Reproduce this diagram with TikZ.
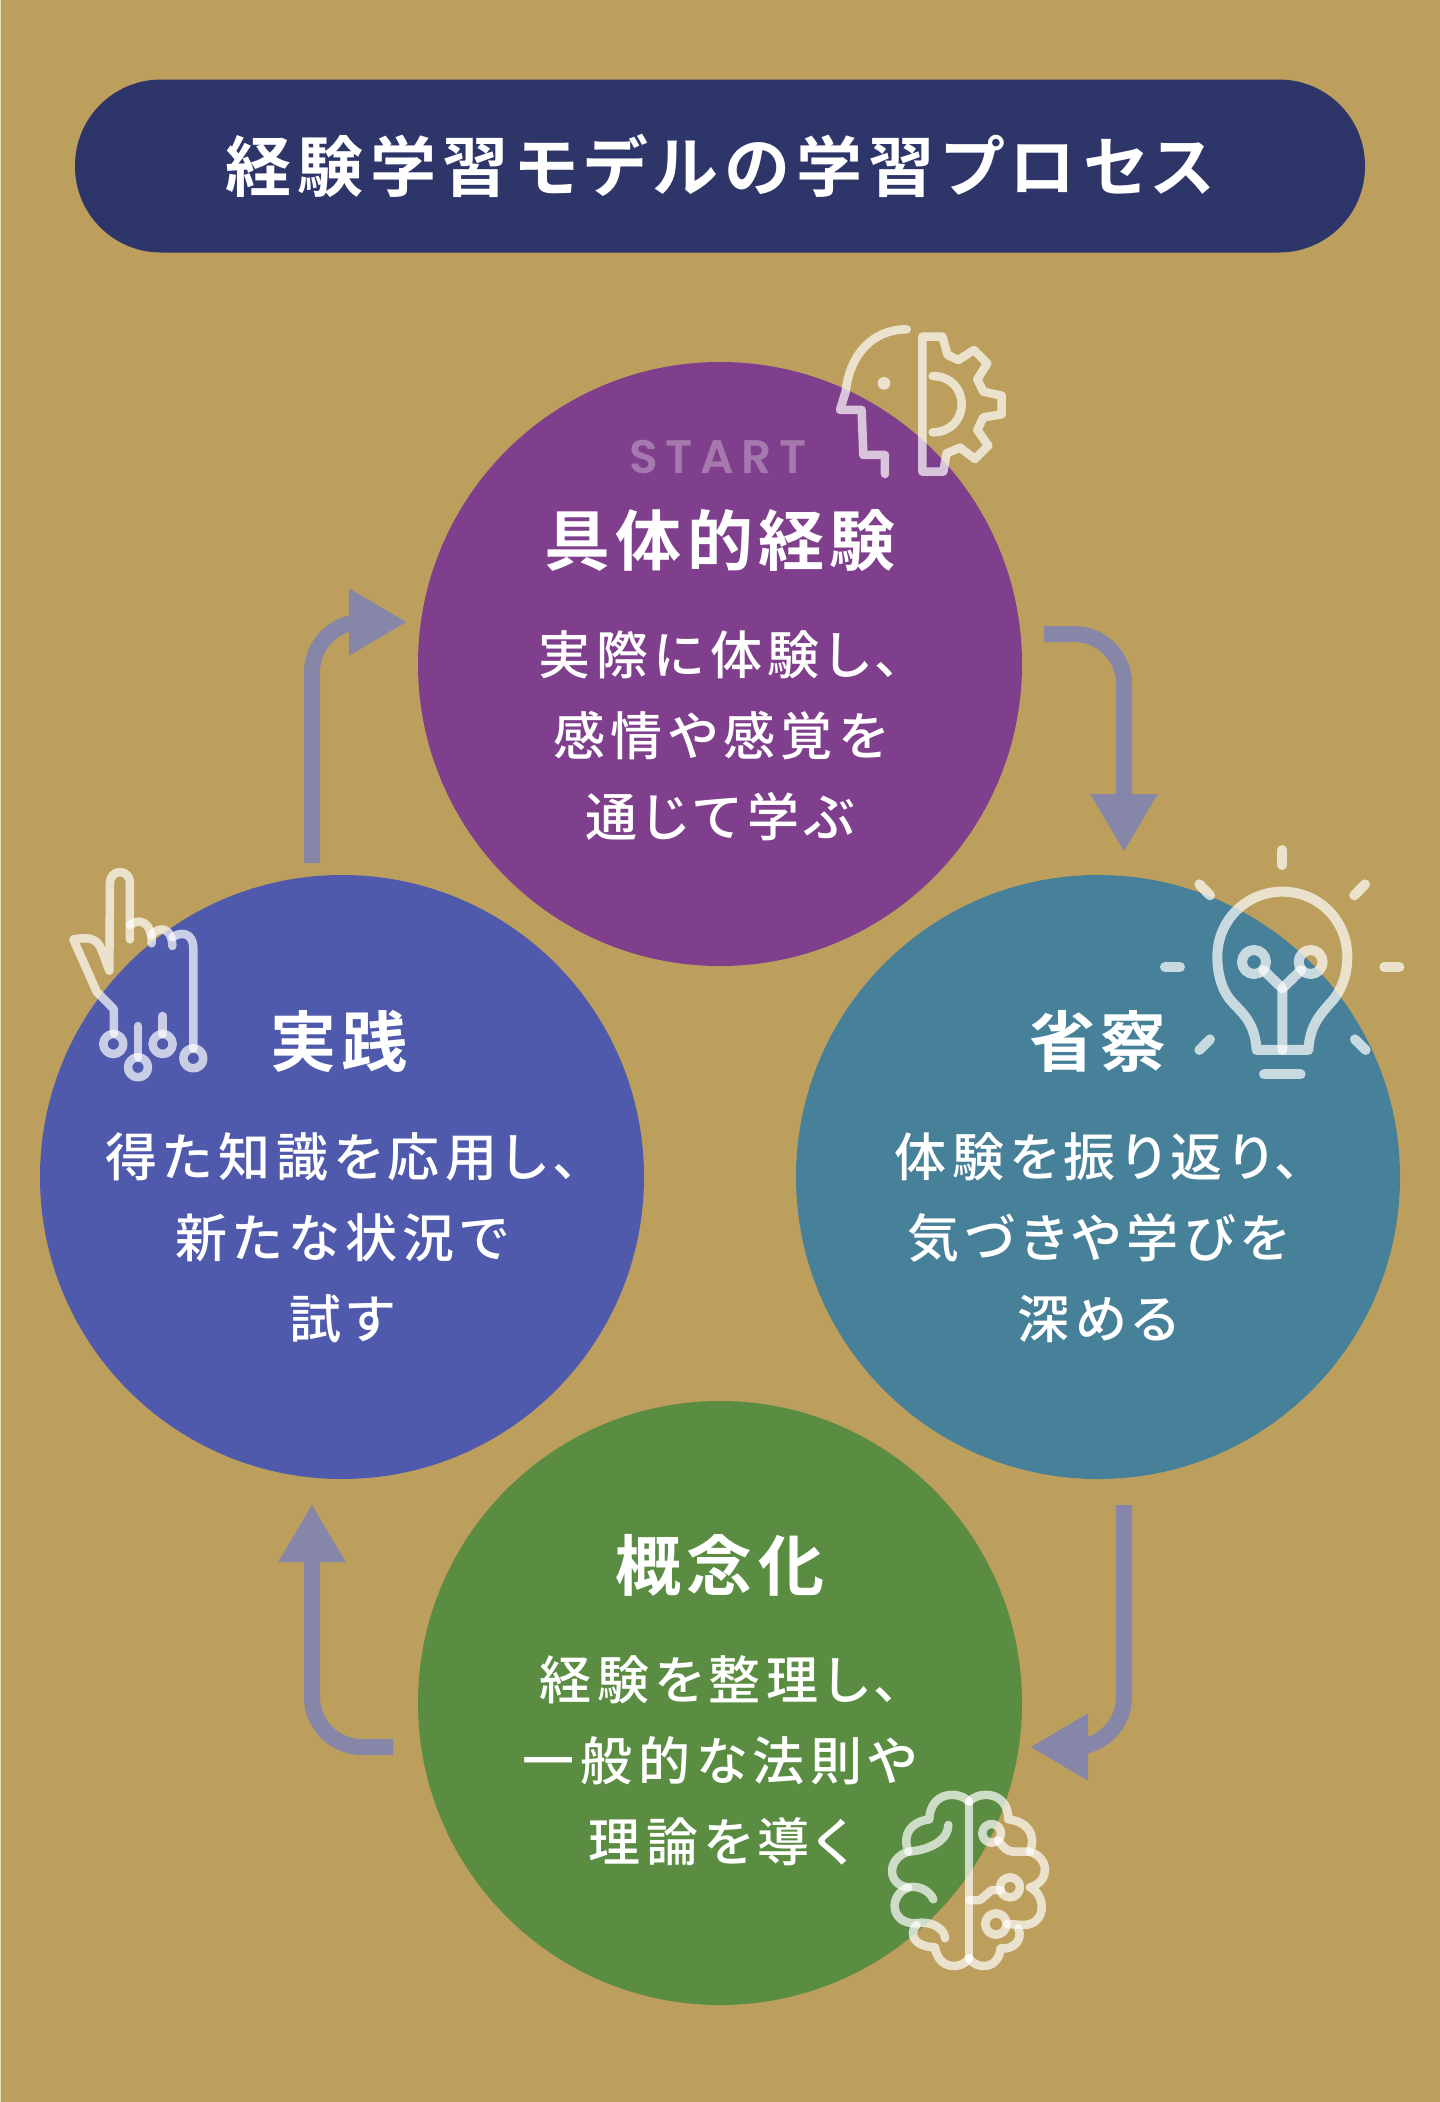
\documentclass[tikz,border=0pt]{standalone}
\usepackage{fontspec}
\usetikzlibrary{arrows.meta}
\setmainfont{Noto Sans CJK JP}
\newfontfamily\titlefont[LetterSpace=10,RawFeature={+palt}]{Noto Sans CJK JP Bold}
\newfontfamily\headfont[LetterSpace=8,RawFeature={+palt}]{Noto Sans CJK JP Bold}
\newfontfamily\bodyfont[LetterSpace=11,RawFeature={+palt}]{Noto Sans CJK JP Medium}
\newfontfamily\startfont[LetterSpace=16]{Poppins SemiBold}
\definecolor{bgc}{HTML}{BD9F5D}
\definecolor{edgec}{HTML}{E6DCC0}
\definecolor{navyc}{HTML}{2E3568}
\definecolor{purplec}{HTML}{7F3F8C}
\definecolor{tealc}{HTML}{478099}
\definecolor{indigoc}{HTML}{4F5AAC}
\definecolor{greenc}{HTML}{5A8C42}
\definecolor{arrowc}{HTML}{8586A8}
\tikzset{
 stage/.style={circle,minimum size=604pt,inner sep=0pt},
 headtext/.style={text=white,font=\headfont\fontsize{66}{70}\selectfont,inner sep=0pt},
 bodytext/.style={text=white,font=\bodyfont\fontsize{52}{81}\selectfont,align=center,inner sep=0pt},
 flow/.style={draw=arrowc,line width=16pt,-{Triangle[length=58pt,width=63pt]}},
 icon/.style={draw=white,draw opacity=0.7,line width=#1,line cap=round,line join=round,fill=none},
 icon/.default=8.5pt,
 icondot/.style={fill=white,fill opacity=0.7,draw=none},
}
\begin{document}
\begin{tikzpicture}[x=1pt,y=-1pt]
\useasboundingbox (0,0) rectangle (1440,2102);
\fill[bgc] (0,0) rectangle (1440,2102);
\fill[edgec] (0,0) rectangle (1.2,2102);
\node[fill=navyc,rounded corners=86pt,minimum width=1290pt,minimum height=173pt,inner sep=0pt] (titlebar) at (720,166) {};
\node[text=white,font=\titlefont\fontsize{66}{70}\selectfont,inner sep=0pt] (titletext) at (720,166) {経験学習モデルの学習プロセス};
\node[stage,fill=purplec] (c1) at (720,664) {};
\node[stage,fill=tealc] (c2) at (1098,1177) {};
\node[stage,fill=greenc] (c3) at (720,1703) {};
\node[stage,fill=indigoc] (c4) at (342,1177) {};
% arrows
\coordinate (a1s) at (1044,634); \coordinate (a1e) at (1124,852);
\coordinate (a2s) at (1124,1505); \coordinate (a2e) at (1030,1747);
\coordinate (a3s) at (393,1747); \coordinate (a3e) at (312,1504);
\coordinate (a4s) at (312,863); \coordinate (a4e) at (407,622);
\draw[flow] (a1s) -- ++(30,0) arc[start angle=270,end angle=360,radius=50] -- (a1e);
\draw[flow] (a2s) -- ++(0,192) arc[start angle=0,end angle=90,radius=50] -- (a2e);
\draw[flow] (a3s) -- ++(-31,0) arc[start angle=90,end angle=180,radius=50] -- (a3e);
\draw[flow] (a4s) -- ++(0,-191) arc[start angle=180,end angle=270,radius=50] -- (a4e);
% text
\node[text=white,text opacity=0.3,font=\startfont\fontsize{47}{50}\selectfont,inner sep=0pt] (st) at (718,457) {START};
\node[headtext] (h1) at (720,540) {具体的経験};
\node[bodytext] (b1) at (720,736) {実際に体験し、\\感情や感覚を\\通じて学ぶ};
\node[headtext] (h2) at (1098,1041) {省察};
\node[bodytext] (b2) at (1098,1238) {体験を振り返り、\\気づきや学びを\\深める};
\node[headtext] (h3) at (720,1565) {概念化};
\node[bodytext] (b3) at (720,1761) {経験を整理し、\\一般的な法則や\\理論を導く};
\node[headtext] (h4) at (339,1041) {実践};
\node[bodytext] (b4) at (342,1238) {得た知識を応用し、\\新たな状況で\\試す};
% head and gear icon
\begin{scope}[shift={(780,300)},x=0.3333pt,y=-0.3333pt]
\draw[icon] (380,88) .. controls (280,88) and (210,160) .. (197,275) -- (180,330) -- (245,330) -- (250,465) -- (315,465) -- (315,522);
\fill[icondot] (312,250) circle[radius=19];
\draw[icon] (427,110) -- (487,110) -- (503,165) -- (535,180) -- (582,150) -- (622,190) -- (592,238) -- (610,275) -- (665,287) -- (665,343) -- (610,352) -- (592,390) -- (625,437) -- (585,477) -- (540,443) -- (500,460) -- (490,515) -- (427,515) -- cycle;
\draw[icon] (458,228) .. controls (510,228) and (545,265) .. (545,312) .. controls (545,360) and (510,397) .. (458,397);
\end{scope}
% bulb icon
\begin{scope}[shift={(1140,830)},x=0.3333pt,y=-0.3333pt]
\foreach \ax/\ay/\bx/\by in {427/60/427/105,178/163/210/196,675/163/643/196,75/411/120/411,733/411/778/411,210/628/178/660,645/628/677/660,372/733/482/733}
  \draw[icon=10pt] (\ax,\ay) -- (\bx,\by);
\draw[icon=10pt] (350,660) .. controls (345,590) and (320,560) .. (280,520) .. controls (250,490) and (232,440) .. (232,380) .. controls (232,270) and (320,185) .. (427,185) .. controls (535,185) and (622,270) .. (622,380) .. controls (622,440) and (600,490) .. (570,520) .. controls (535,560) and (510,590) .. (505,660) -- cycle;
\draw[icon=10pt] (427,660) -- (427,475) -- (370,420);
\draw[icon=10pt] (427,475) -- (484,420);
\draw[icon=10pt] (342,396) circle[radius=36];
\draw[icon=10pt] (512,396) circle[radius=36];
\end{scope}
% hand icon
\begin{scope}[shift={(50,850)},x=0.3333pt,y=-0.3333pt]
\draw[icon] (240,268) -- (240,100) .. controls (240,55) and (180,55) .. (180,100) -- (178,362) -- (155,300) .. controls (140,260) and (110,262) .. (70,268) -- (140,425) -- (192,478) -- (192,550);
\draw[icon] (240,225) .. controls (265,205) and (305,210) .. (305,280);
\draw[icon] (305,255) .. controls (330,225) and (367,235) .. (367,288);
\draw[icon] (367,262) .. controls (390,245) and (430,245) .. (430,295) -- (430,595);
\draw[icon] (264,528) -- (264,622);
\draw[icon] (338,498) -- (338,552);
\foreach \cx/\cy in {190/582,264/652,338/582,430/625}
  \draw[icon] (\cx,\cy) circle[radius=30];
\end{scope}
% brain icon
\begin{scope}[shift={(870,1770)},x=0.3333pt,y=-0.3333pt]
\draw[icon] (297,95) -- (297,565);
\draw[icon] (297,95) .. controls (265,60) and (180,65) .. (178,148) .. controls (125,155) and (95,190) .. (115,245) .. controls (50,265) and (50,345) .. (115,352) .. controls (150,345) and (180,365) .. (190,388);
\draw[icon] (235,165) .. controls (235,210) and (180,240) .. (115,245);
\draw[icon] (115,352) .. controls (55,375) and (60,460) .. (135,460) .. controls (190,450) and (225,480) .. (225,505);
\draw[icon] (140,465) .. controls (115,490) and (130,530) .. (195,532) .. controls (205,600) and (275,600) .. (297,565);
\draw[icon] (297,95) .. controls (330,60) and (415,65) .. (415,148) .. controls (470,155) and (500,190) .. (480,245) .. controls (540,265) and (540,335) .. (480,352) .. controls (530,375) and (530,465) .. (460,465) -- (412,462);
\draw[icon] (445,475) .. controls (460,510) and (430,540) .. (392,535) .. controls (385,600) and (320,600) .. (297,565);
\draw[icon] (365,190) circle[radius=28];
\draw[icon] (385,212) .. controls (400,230) and (410,245) .. (430,245) -- (480,245);
\draw[icon] (420,352) circle[radius=30];
\draw[icon] (392,360) -- (365,360) -- (330,390) -- (297,390);
\draw[icon] (378,462) circle[radius=32];
\end{scope}
\end{tikzpicture}
\end{document}
